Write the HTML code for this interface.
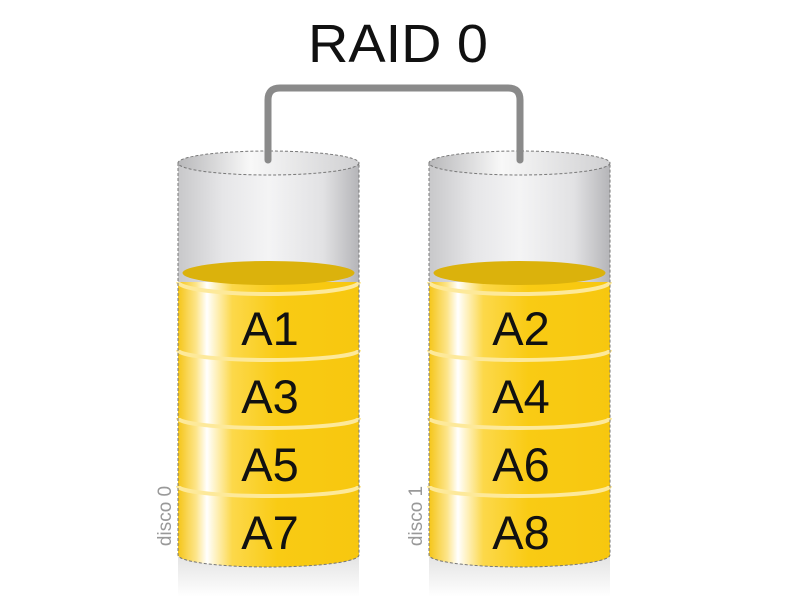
<!DOCTYPE html>
<html><head><meta charset="utf-8"><style>
html,body{margin:0;padding:0;background:#fff;}
svg{display:block;}
text{font-family:"Liberation Sans",sans-serif;}
</style></head><body>
<svg width="790" height="597" viewBox="0 0 790 597" xmlns="http://www.w3.org/2000/svg">
<defs>
<linearGradient id="glass" x1="0" x2="1" y1="0" y2="0">
<stop offset="0" stop-color="#c8c8ca"/>
<stop offset="0.25" stop-color="#e6e6e8"/>
<stop offset="0.5" stop-color="#f4f4f5"/>
<stop offset="0.8" stop-color="#e2e2e4"/>
<stop offset="1" stop-color="#b5b5b8"/>
</linearGradient>
<linearGradient id="glasstop" x1="0" x2="1" y1="0" y2="0">
<stop offset="0" stop-color="#b8b8ba"/>
<stop offset="0.4" stop-color="#f8f8f8"/>
<stop offset="1" stop-color="#d0d0d2"/>
</linearGradient>
<linearGradient id="gold" x1="0" x2="1" y1="0" y2="0">
<stop offset="0" stop-color="#f5c518"/>
<stop offset="0.1" stop-color="#fde58a"/>
<stop offset="0.16" stop-color="#ffffff"/>
<stop offset="0.3" stop-color="#fcd84a"/>
<stop offset="0.55" stop-color="#f9cb14"/>
<stop offset="1" stop-color="#f7c70f"/>
</linearGradient>
<linearGradient id="refl" x1="0" x2="0" y1="0" y2="1">
<stop offset="0" stop-color="#e4e4e4"/>
<stop offset="1" stop-color="#ffffff"/>
</linearGradient>
</defs>

<text x="398" y="62" font-size="54" text-anchor="middle" fill="#111" textLength="180" lengthAdjust="spacingAndGlyphs">RAID 0</text>
<path d="M268,160 V100 Q268,88 280,88 H508 Q520,88 520,100 V160" fill="none" stroke="#8a8a8a" stroke-width="7" stroke-linecap="round"/>

<g id="c0">
<rect x="178" y="557" width="181" height="40" fill="url(#refl)"/>
<path d="M178,163 V555 A90.5,12 0 0 0 359,555 V163 Z" fill="url(#glass)"/>
<path d="M178,282 V555 A90.5,12 0 0 0 359,555 V282 Z" fill="url(#gold)"/>
<path d="M178,282 A90.5,12 0 0 0 359,282" fill="none" stroke="#fde99a" stroke-width="4"/>
<ellipse cx="268.5" cy="273" rx="86" ry="12" fill="#dbb20c"/>
<path d="M178,350 A90.5,10 0 0 0 359,350" fill="none" stroke="#fde99a" stroke-width="4"/>
<path d="M178,418 A90.5,10 0 0 0 359,418" fill="none" stroke="#fde99a" stroke-width="4"/>
<path d="M178,486 A90.5,10 0 0 0 359,486" fill="none" stroke="#fde99a" stroke-width="4"/>
<ellipse cx="268.5" cy="163" rx="90.5" ry="12" fill="url(#glasstop)" stroke="#777" stroke-width="1" stroke-dasharray="3,2"/>
<path d="M178,163 V555 A90.5,12 0 0 0 359,555 V163" fill="none" stroke="#777" stroke-width="1" stroke-dasharray="3,2"/>
</g>
<line x1="268" y1="150" x2="268" y2="160" stroke="#8a8a8a" stroke-width="7" stroke-linecap="round"/>

<use href="#c0" x="251"/>
<line x1="520" y1="150" x2="520" y2="160" stroke="#8a8a8a" stroke-width="7" stroke-linecap="round"/>

<g font-size="47" fill="#111" text-anchor="middle">
<text x="270" y="345">A1</text><text x="270" y="413">A3</text><text x="270" y="481">A5</text><text x="270" y="549">A7</text>
<text x="521" y="345">A2</text><text x="521" y="413">A4</text><text x="521" y="481">A6</text><text x="521" y="549">A8</text>
</g>
<text transform="translate(171,516) rotate(-90)" font-size="19" fill="#999" text-anchor="middle">disco 0</text>
<text transform="translate(422,516) rotate(-90)" font-size="19" fill="#999" text-anchor="middle">disco 1</text>
</svg>
</body></html>
